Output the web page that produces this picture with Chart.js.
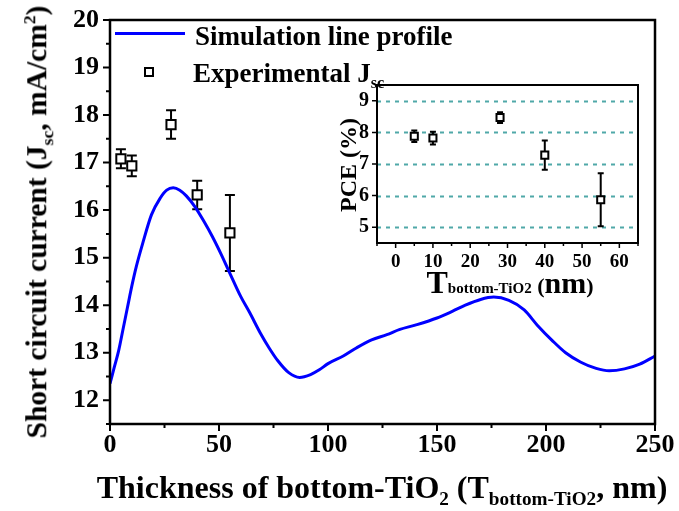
<!DOCTYPE html>
<html>
<head>
<meta charset="utf-8">
<script src="https://cdn.jsdelivr.net/npm/chart.js@4.4.1/dist/chart.umd.min.js"></script>
<style>
  body { margin: 0; background: #fff; }
  #wrap { position: relative; width: 679px; height: 511px; overflow: hidden;
          font-family: "Liberation Serif", "Times New Roman", serif; font-weight: bold; color: #000; }
  #main { position: absolute; left: 0; top: 0; }
  #inset { position: absolute; left: 340px; top: 78px; }
  .lbl { position: absolute; white-space: nowrap; line-height: 1; }
  sub, sup { font-size: 60%; line-height: 0; }
</style>
</head>
<body>
<div id="wrap">
  <canvas id="main" width="679" height="511"></canvas>
  <canvas id="inset" width="310" height="195"></canvas>

  <!-- legend -->
  <div style="position:absolute;left:115px;top:32px;width:70px;height:3px;background:#0000ff;"></div>
  <div class="lbl" style="left:195px;top:23px;font-size:27px;">Simulation line profile</div>
  <div style="position:absolute;left:144px;top:67px;width:6px;height:6px;border:2px solid #000;background:#fff;"></div>
  <div class="lbl" style="left:193px;top:60px;font-size:27px;">Experimental J<sub>sc</sub></div>

  <!-- axis titles -->
  <div class="lbl" style="left:37px;top:222px;font-size:29.5px;transform:translate(-50%,-50%) rotate(-90deg);">Short circuit current (J<sub>sc</sub>, mA/cm<sup>2</sup>)</div>
  <div class="lbl" style="left:382px;top:471px;font-size:32px;transform:translateX(-50%);">Thickness of bottom-TiO<sub>2</sub> (T<sub>bottom-TiO2</sub>, nm)</div>

  <!-- inset titles -->
  <div class="lbl" style="left:348px;top:165px;font-size:24px;transform:translate(-50%,-50%) rotate(-90deg);">PCE (%)</div>
  <div class="lbl" style="left:510px;top:266px;font-size:22px;transform:translateX(-50%);"><span style="font-size:32px;">T</span><span style="font-size:15px;">bottom-TiO2</span> (<span style="font-size:30px;">nm</span>)</div>
</div>

<script>
// ===== MAIN CHART DATA =====
const simX = [0, 2, 4, 6, 8, 10, 12, 15, 19, 23, 26, 29, 32, 35, 39, 43, 47, 51, 55, 60, 64, 69, 73, 77, 82, 87, 92, 96,
              100, 107, 113, 120, 127, 133, 140, 150, 157, 163, 170, 176, 183, 190, 196, 203, 209, 216, 223, 229, 236, 243, 250];
const simY = [12.35, 12.7, 13.05, 13.5, 13.95, 14.4, 14.8, 15.3, 15.9, 16.25, 16.42, 16.47, 16.42, 16.3, 16.07, 15.77, 15.44, 15.07, 14.67, 14.18, 13.85, 13.41, 13.1, 12.83, 12.58, 12.48, 12.54, 12.64,
              12.77, 12.93, 13.1, 13.27, 13.38, 13.49, 13.58, 13.73, 13.87, 14.0, 14.12, 14.17, 14.1, 13.9, 13.58, 13.25, 13.0, 12.8, 12.67, 12.62, 12.66, 12.76, 12.93];

const expX = [5, 10, 28, 40, 55];
const expY = [17.08, 16.93, 17.80, 16.32, 15.52];
const expErr = [0.2, 0.22, 0.3, 0.3, 0.8];

const mainXTicks = [0, 50, 100, 150, 200, 250];
const mainXMinor = [25, 75, 125, 175, 225];
const mainYTicks = [12, 13, 14, 15, 16, 17, 18, 19, 20];
const mainYMinor = [11.5, 12.5, 13.5, 14.5, 15.5, 16.5, 17.5, 18.5, 19.5];

// ===== INSET DATA =====
const pceX = [5, 10, 28, 40, 55];
const pceY = [7.88, 7.82, 8.47, 7.28, 5.87];
const pceErr = [0.18, 0.2, 0.17, 0.46, 0.84];

const insetXTicks = [0, 10, 20, 30, 40, 50, 60];
const insetXMinor = [-5, 5, 15, 25, 35, 45, 55, 65];
const insetYTicks = [5, 6, 7, 8, 9];

const FONT = '"Liberation Serif", "Times New Roman", serif';

// frame, ticks, dashed grid and error bars drawn through the chart's own scales
function decorPlugin(cfg) {
    return {
        id: 'decor',
        beforeDatasetsDraw(chart) {
            const { ctx, chartArea: a, scales: { x, y } } = chart;
            ctx.save();
            if (cfg.grid) {
                ctx.strokeStyle = cfg.grid.color;
                ctx.lineWidth = cfg.grid.width;
                ctx.setLineDash(cfg.grid.dash);
                cfg.grid.values.forEach(v => {
                    const py = Math.round(y.getPixelForValue(v)) + 0.5;
                    ctx.beginPath(); ctx.moveTo(a.left, py); ctx.lineTo(a.right, py); ctx.stroke();
                });
                ctx.setLineDash([]);
            }
            // error bars
            ctx.strokeStyle = '#000';
            ctx.lineWidth = cfg.errWidth;
            cfg.errX.forEach((xv, i) => {
                const px = x.getPixelForValue(xv);
                const top = y.getPixelForValue(cfg.errY[i] + cfg.err[i]);
                const bot = y.getPixelForValue(cfg.errY[i] - cfg.err[i]);
                ctx.beginPath();
                ctx.moveTo(px, top); ctx.lineTo(px, bot);
                ctx.moveTo(px - cfg.cap, top); ctx.lineTo(px + cfg.cap, top);
                ctx.moveTo(px - cfg.cap, bot); ctx.lineTo(px + cfg.cap, bot);
                ctx.stroke();
            });
            ctx.restore();
        },
        afterDraw(chart) {
            const { ctx, chartArea: a, scales: { x, y } } = chart;
            ctx.save();
            ctx.strokeStyle = '#000';
            ctx.lineWidth = cfg.frame;
            ctx.strokeRect(a.left, a.top, a.right - a.left, a.bottom - a.top);
            ctx.lineWidth = cfg.tickWidth;
            ctx.beginPath();
            cfg.xMajor.forEach(v => { const p = x.getPixelForValue(v); ctx.moveTo(p, a.bottom); ctx.lineTo(p, a.bottom + cfg.major); });
            cfg.xMinor.forEach(v => { const p = x.getPixelForValue(v); ctx.moveTo(p, a.bottom); ctx.lineTo(p, a.bottom + cfg.minor); });
            cfg.yMajor.forEach(v => { const p = y.getPixelForValue(v); ctx.moveTo(a.left, p); ctx.lineTo(a.left - cfg.major, p); });
            cfg.yMinor.forEach(v => { const p = y.getPixelForValue(v); ctx.moveTo(a.left, p); ctx.lineTo(a.left - cfg.minor, p); });
            ctx.stroke();
            ctx.restore();
        }
    };
}

function fixedTicks(list) {
    return scale => { scale.ticks = list.map(v => ({ value: v })); };
}

// fixed axis size, and no extra room for labels hanging over the ends
function fixedSize(prop, size) {
    return s => {
        s[prop] = size;
        s.paddingTop = s.paddingBottom = s.paddingLeft = s.paddingRight = 0;
    };
}

// ===== 1. MAIN CHART =====
new Chart(document.getElementById('main'), {
    type: 'scatter',
    data: {
        datasets: [{
            type: 'line',
            data: simX.map((xv, i) => ({ x: xv, y: simY[i] })),
            borderColor: '#0000ff',
            borderWidth: 3,
            pointRadius: 0,
            cubicInterpolationMode: 'monotone',
            fill: false
        }, {
            data: expX.map((xv, i) => ({ x: xv, y: expY[i] })),
            pointStyle: 'rect',
            pointRadius: 6.5,
            pointBorderWidth: 2,
            pointBorderColor: '#000',
            pointBackgroundColor: '#fff'
        }]
    },
    options: {
        responsive: false,
        animation: false,
        devicePixelRatio: 1,
        layout: { padding: { top: 20, right: 24, left: 0, bottom: 0 } },
        plugins: { legend: { display: false }, tooltip: { enabled: false } },
        scales: {
            x: {
                type: 'linear', min: 0, max: 250,
                afterBuildTicks: fixedTicks(mainXTicks),
                afterFit: fixedSize('height', 87),
                grid: { display: false, drawTicks: false },
                border: { display: false },
                ticks: { color: '#000', padding: 6, maxRotation: 0, font: { family: FONT, size: 26, weight: 'bold' } }
            },
            y: {
                min: 11.5, max: 20,
                afterBuildTicks: fixedTicks(mainYTicks),
                afterFit: fixedSize('width', 110),
                grid: { display: false, drawTicks: false },
                border: { display: false },
                ticks: { color: '#000', padding: 11, font: { family: FONT, size: 26, weight: 'bold' } }
            }
        }
    },
    plugins: [decorPlugin({
        frame: 2.5, tickWidth: 2, major: 7, minor: 4,
        xMajor: mainXTicks, xMinor: mainXMinor, yMajor: mainYTicks, yMinor: mainYMinor,
        errX: expX, errY: expY, err: expErr, cap: 5, errWidth: 2
    })]
});

// ===== 2. INSET CHART (PCE) =====
new Chart(document.getElementById('inset'), {
    type: 'scatter',
    data: {
        datasets: [{
            data: pceX.map((xv, i) => ({ x: xv, y: pceY[i] })),
            pointStyle: 'rect',
            pointRadius: 5,
            pointBorderWidth: 2,
            pointBorderColor: '#000',
            pointBackgroundColor: '#fff'
        }]
    },
    options: {
        responsive: false,
        animation: false,
        devicePixelRatio: 1,
        layout: { padding: { top: 7, right: 12, left: 0, bottom: 0 } },
        plugins: { legend: { display: false }, tooltip: { enabled: false } },
        scales: {
            x: {
                type: 'linear', min: -5, max: 65,
                afterBuildTicks: fixedTicks(insetXTicks),
                afterFit: fixedSize('height', 30),
                grid: { display: false, drawTicks: false },
                border: { display: false },
                ticks: { color: '#000', padding: 8, maxRotation: 0, font: { family: FONT, size: 19, weight: 'bold' } }
            },
            y: {
                min: 4.5, max: 9.5,
                afterBuildTicks: fixedTicks(insetYTicks),
                afterFit: fixedSize('width', 37),
                grid: { display: false, drawTicks: false },
                border: { display: false },
                ticks: { color: '#000', padding: 8, font: { family: FONT, size: 20, weight: 'bold' } }
            }
        }
    },
    plugins: [decorPlugin({
        frame: 2, tickWidth: 1.5, major: 5, minor: 3,
        xMajor: insetXTicks, xMinor: insetXMinor, yMajor: insetYTicks, yMinor: [],
        grid: { values: insetYTicks, color: '#4fa8a8', width: 2, dash: [4, 5] },
        errX: pceX, errY: pceY, err: pceErr, cap: 3, errWidth: 2
    })]
});
</script>
</body>
</html>
